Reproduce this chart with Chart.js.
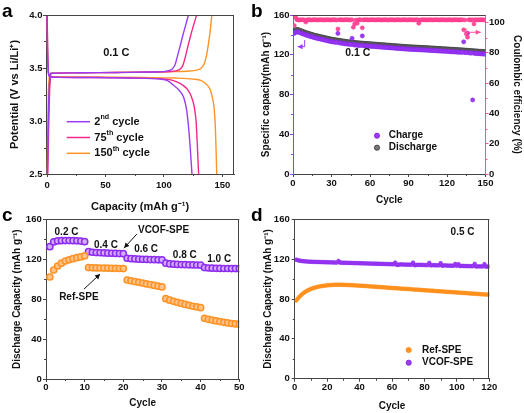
<!DOCTYPE html>
<html lang="en">
<head>
<meta charset="UTF-8">
<title>Electrochemical performance panels</title>
<script src="https://cdn.jsdelivr.net/npm/chart.js"></script>
<style>
  body { margin: 0; padding: 0; background: #fff; font-family: "Liberation Sans", Arial, sans-serif; }
  .fig { position: relative; width: 524px; height: 413px; overflow: hidden; }
  .fig canvas { position: absolute; }
  .tag { position: absolute; font-weight: bold; font-size: 19px; line-height: 19px; color: #000; }
</style>
</head>
<body>
<div class="fig">
  <canvas id="chartA" width="262" height="216" style="left:0;top:0"></canvas>
  <canvas id="chartB" width="268" height="210" style="left:256px;top:0"></canvas>
  <canvas id="chartC" width="262" height="207" style="left:0;top:206px"></canvas>
  <canvas id="chartD" width="268" height="207" style="left:256px;top:206px"></canvas>
  <div class="tag" style="left:2px;top:1px">a</div>
  <div class="tag" style="left:251px;top:1px">b</div>
  <div class="tag" style="left:2px;top:205px">c</div>
  <div class="tag" style="left:251px;top:205px">d</div>
</div>

<script>
// ---- panel a: voltage profiles (capacity mAh/g, potential V)
const charge2Cap = [0.2, 0.8, 1.5, 2.3, 3.2, 6, 30, 60, 90, 100, 104, 107, 109.5, 111.5, 113.5, 116, 118.5, 121];
const charge2V   = [2.5, 2.9, 3.25, 3.41, 3.45, 3.452, 3.455, 3.458, 3.462, 3.466, 3.475, 3.49, 3.53, 3.61, 3.69, 3.8, 3.9, 4.0];
const disch2Cap  = [0, 0.3, 0.8, 1.5, 3, 10, 40, 70, 90, 97, 103, 108, 113, 117, 119.5, 121, 122.5, 124];
const disch2V    = [4.0, 3.7, 3.5, 3.43, 3.415, 3.412, 3.41, 3.405, 3.4, 3.395, 3.38, 3.34, 3.29, 3.22, 3.1, 2.95, 2.75, 2.5];

const charge75Cap = [0.5, 1.2, 2, 2.8, 3.8, 7, 30, 60, 90, 105, 111, 114, 116, 118, 120, 122.5, 125, 128];
const charge75V   = [2.5, 2.9, 3.25, 3.41, 3.45, 3.452, 3.455, 3.458, 3.462, 3.466, 3.475, 3.49, 3.52, 3.59, 3.68, 3.79, 3.89, 4.0];
const disch75Cap  = [0, 0.3, 0.8, 1.5, 3, 10, 40, 70, 95, 105, 111, 116, 120, 123.5, 126, 127.5, 128.5, 129.7];
const disch75V    = [4.0, 3.7, 3.5, 3.43, 3.415, 3.412, 3.41, 3.405, 3.4, 3.39, 3.37, 3.34, 3.3, 3.23, 3.13, 3.0, 2.8, 2.5];

const charge150Cap = [0.1, 0.5, 1, 1.8, 2.8, 6, 30, 60, 90, 110, 122, 128, 132, 134.5, 136.5, 138, 139.5, 141];
const charge150V   = [2.5, 2.9, 3.25, 3.41, 3.45, 3.452, 3.455, 3.458, 3.462, 3.466, 3.472, 3.48, 3.5, 3.54, 3.62, 3.72, 3.84, 4.0];
const disch150Cap  = [0, 0.3, 0.8, 1.5, 3, 10, 40, 80, 110, 125, 132, 136, 139.5, 141.5, 143, 144, 144.6, 145.2];
const disch150V    = [4.0, 3.7, 3.5, 3.43, 3.42, 3.418, 3.415, 3.41, 3.405, 3.395, 3.38, 3.35, 3.3, 3.22, 3.12, 2.95, 2.75, 2.5];

const cycleNames = ['2^{nd} cycle', '75^{th} cycle', '150^{th} cycle'];
const capTicks = [0, 50, 100, 150];
const potTicks = [2.5, 3.0, 3.5, 4.0];

// ---- panel b: cycling at 0.1 C (cycles 1..150)
const chargeCap = [
  141.5,142.5,143.0,142.8,142.4,141.9,141.4,140.9,140.4,139.9,
  139.5,139.1,138.7,138.3,137.9,137.5,137.1,136.8,136.5,136.2,
  135.9,135.6,135.3,135.0,134.7,134.4,134.1,133.8,133.5,133.2,
  133.0,132.8,132.6,132.4,141.5,132.0,131.8,131.6,131.4,131.2,
  131.0,130.8,130.7,130.5,130.4,136.5,130.1,129.9,129.8,129.6,
  129.5,129.4,129.3,138.9,129.1,129.0,128.9,128.8,128.7,128.6,
  128.5,128.4,128.3,128.2,128.1,128.0,127.9,127.8,127.7,127.6,
  127.5,127.4,127.3,127.2,127.1,127.0,126.9,126.8,126.7,126.6,
  126.5,126.4,126.3,126.2,126.1,126.0,125.9,125.8,125.7,125.6,
  125.5,125.5,125.4,125.3,125.3,125.2,125.1,125.1,125.0,124.9,
  124.9,124.8,124.7,124.7,124.6,124.5,124.4,124.3,124.2,124.2,
  124.1,124.0,123.9,123.8,123.8,123.7,123.6,123.5,123.5,123.4,
  123.3,123.2,123.1,123.0,123.0,122.9,122.8,122.7,122.6,122.6,
  122.5,122.4,133.0,122.2,122.1,141.6,121.9,121.8,121.7,74.5,
  121.5,121.4,121.3,121.2,121.1,121.0,120.9,120.8,120.7,120.6
];
const dischargeCap = [
  144.0,145.0,145.5,145.2,144.8,144.3,143.8,143.3,142.8,142.3,
  141.9,141.5,141.1,140.7,140.3,139.9,139.5,139.2,138.9,138.6,
  138.3,138.0,137.7,137.4,137.1,136.8,136.5,136.2,135.9,135.6,
  135.4,135.2,135.0,134.8,134.6,134.4,134.2,134.0,133.8,133.6,
  133.4,133.2,133.1,132.9,132.8,132.6,132.5,132.3,132.2,132.0,
  131.9,131.8,131.7,131.6,131.5,131.4,131.3,131.2,131.1,131.0,
  130.9,130.8,130.7,130.6,130.5,130.4,130.3,130.2,130.1,130.0,
  129.9,129.8,129.7,129.6,129.5,129.4,129.3,129.2,129.1,129.0,
  128.9,128.8,128.7,128.6,128.5,128.4,128.3,128.2,128.1,128.0,
  127.9,127.9,127.8,127.7,127.7,127.6,127.5,127.5,127.4,127.3,
  127.3,127.2,127.1,127.1,127.0,126.9,126.8,126.7,126.6,126.6,
  126.5,126.4,126.3,126.2,126.2,126.1,126.0,125.9,125.9,125.8,
  125.7,125.6,125.5,125.4,125.4,125.3,125.2,125.1,125.0,125.0,
  124.9,124.8,124.7,124.6,124.5,124.4,124.3,124.2,124.1,124.0,
  123.9,123.8,123.7,123.6,123.5,123.4,123.3,123.2,123.1,123.0
];
const coulombEff = [
  98.0,103.5,101.9,101.8,101.7,101.8,101.9,101.8,101.7,100.3,
  101.8,101.9,101.8,101.7,101.8,101.8,101.9,101.8,101.7,101.8,
  101.8,101.9,101.8,101.7,101.8,101.8,101.9,101.8,101.7,101.8,
  101.8,101.9,101.8,101.7,95.8,101.8,101.9,101.8,101.7,101.8,
  101.8,101.9,101.8,101.7,101.8,101.8,96.9,99.1,101.7,99.5,
  101.8,101.9,101.8,96.5,101.8,101.8,101.9,101.8,101.7,101.8,
  101.8,101.9,101.8,101.7,101.8,101.8,101.9,101.8,101.7,101.8,
  101.8,101.9,101.8,101.7,101.8,101.8,101.9,101.8,101.7,101.8,
  101.8,101.9,101.8,101.7,101.8,101.8,101.9,101.8,101.7,101.8,
  101.8,101.9,101.8,101.7,101.8,101.8,101.9,99.5,101.7,101.8,
  101.8,101.9,101.8,101.7,101.8,101.8,101.9,101.8,101.7,101.8,
  101.8,101.9,101.8,101.7,101.8,101.8,101.9,101.8,101.7,101.8,
  101.8,101.9,101.8,101.7,101.8,101.8,101.9,101.8,101.7,101.8,
  101.8,101.9,95.2,101.7,92.6,90.3,101.9,101.8,101.7,101.8,
  99.1,101.9,101.8,101.7,101.8,101.8,101.9,101.8,101.7,101.8
];
const cycTicksB = [0, 30, 60, 90, 120, 150];
const capTicksB = [0, 40, 80, 120, 160];
const ceTicks = [0, 20, 40, 60, 80, 100];

// ---- panel c: rate capability (cycles 1..50)
const vcofRate = [
  132.6,137.3,138.3,138.6,138.7,138.7,138.6,138.4,138.2,137.6,
  127.6,127.0,126.7,126.5,126.3,126.1,126.0,125.8,125.7,125.6,
  121.0,120.6,120.3,120.1,119.9,119.8,119.6,119.5,119.4,119.3,
  116.0,115.3,115.0,114.8,114.6,114.5,114.4,114.3,114.2,114.0,
  111.6,111.2,111.0,110.9,110.8,110.7,110.7,110.6,110.6,110.5
];
const refRate = [
  102.2,109.2,113.2,116.0,118.2,119.4,120.6,121.6,122.3,123.3,
  111.6,111.4,111.3,111.2,111.1,111.0,110.9,110.8,110.7,110.6,
  99.2,98.4,97.6,96.9,96.1,95.3,94.6,93.8,93.0,92.2,
  80.5,79.0,77.8,76.7,75.7,74.7,73.8,72.9,72.2,71.5,
  60.8,59.8,59.0,58.2,57.5,56.8,56.2,55.6,55.2,54.8
];
const cycTicksC = [0, 10, 20, 30, 40, 50];
const capTicksC = [0, 40, 80, 120, 160];

// ---- panel d: long cycling at 0.5 C (cycles 1..120)
const refLong = [
  78.5,80.6,82.4,84.0,85.4,86.6,87.7,88.6,89.4,90.1,
  90.7,91.2,91.7,92.1,92.5,92.8,93.1,93.3,93.5,93.7,
  93.9,94.0,94.1,94.2,94.3,94.3,94.3,94.3,94.3,94.2,
  94.2,94.1,94.0,94.0,93.9,93.8,93.7,93.6,93.5,93.4,
  93.3,93.2,93.1,93.0,92.9,92.7,92.6,92.5,92.4,92.3,
  92.1,92.0,91.9,91.8,91.7,91.6,91.5,91.3,91.2,91.1,
  91.0,90.9,90.8,90.7,90.5,90.4,90.3,90.2,90.1,90.0,
  89.9,89.7,89.6,89.5,89.4,89.3,89.2,89.1,88.9,88.8,
  88.7,88.6,88.5,88.4,88.3,88.1,88.0,87.9,87.8,87.7,
  87.6,87.5,87.3,87.2,87.1,87.0,86.9,86.8,86.7,86.5,
  86.4,86.3,86.2,86.1,86.0,85.9,85.7,85.6,85.5,85.4,
  85.3,85.2,85.1,84.9,84.8,84.7,84.6,84.5,84.4,84.3
];
const vcofLong = [
  119.5,118.9,118.5,118.2,118.0,117.8,117.7,117.6,117.5,117.4,
  117.3,117.3,117.2,117.2,117.1,117.1,117.0,117.0,116.9,116.9,
  116.8,116.8,116.7,116.7,116.6,116.6,118.2,116.5,116.5,116.4,
  116.4,116.3,116.3,116.2,116.2,116.1,116.1,116.0,116.0,115.9,
  115.9,115.8,115.8,115.7,115.7,115.6,115.6,115.5,115.5,115.4,
  115.4,115.3,115.3,115.2,115.2,115.1,115.1,115.0,115.0,114.9,
  114.9,116.6,114.2,114.4,114.7,114.7,114.6,114.6,114.5,114.5,
  114.4,114.4,116.5,113.9,114.2,114.3,114.3,114.2,114.2,114.1,
  114.1,114.0,116.3,113.7,114.0,113.9,113.9,113.8,113.8,116.0,
  113.4,113.7,113.7,113.6,113.6,113.5,113.5,113.4,115.2,113.3,
  115.0,113.0,113.2,113.2,113.1,113.1,113.0,113.0,112.9,112.9,
  115.3,112.5,112.8,112.8,112.7,112.7,115.1,112.4,112.6,112.5
];
const cycTicksD = [0, 20, 40, 60, 80, 100, 120];
const capTicksD = [0, 40, 80, 120, 160];

// ---- colours
const PURPLE = '#9b3cf5';
const PINK = '#f2288a';
const ORANGE = '#ff9326';
const CE_PINK = '#ff4f9a';
const GREY = '#5a5a5a';
const AXIS = '#444';

Chart.defaults.font.family = '"Liberation Sans", Arial, sans-serif';
Chart.defaults.font.weight = 'bold';
Chart.defaults.font.size = 9.5;
Chart.defaults.color = '#111';

function pts(xs, ys) { return xs.map((x, i) => ({ x: x, y: ys[i] })); }
function byCycle(vals) { return vals.map((v, i) => ({ x: i + 1, y: v })); }

// text with ^{sup} parts
function drawRich(ctx, str, x, y, size, align) {
  const parts = [];
  str.split(/(\^\{[^}]*\})/).forEach(p => {
    if (!p) return;
    if (p.startsWith('^{')) parts.push({ t: p.slice(2, -1), sup: true });
    else parts.push({ t: p, sup: false });
  });
  const fam = Chart.defaults.font.family;
  const fontOf = s => 'bold ' + (s ? size * 0.65 : size) + 'px ' + fam;
  let w = 0;
  parts.forEach(p => { ctx.font = fontOf(p.sup); p.w = ctx.measureText(p.t).width; w += p.w; });
  let cx = align === 'center' ? x - w / 2 : x;
  ctx.textBaseline = 'middle';
  ctx.textAlign = 'left';
  parts.forEach(p => {
    ctx.font = fontOf(p.sup);
    ctx.fillText(p.t, cx, p.sup ? y - size * 0.38 : y);
    cx += p.w;
  });
}

const boxPlugin = {
  id: 'box',
  afterDraw(chart, args, opts) {
    const { ctx, chartArea: a } = chart;
    ctx.save();
    ctx.strokeStyle = AXIS;
    ctx.lineWidth = 1;
    ctx.beginPath();
    const t = Math.round(a.top) + 0.5, r = Math.round(a.right) - 0.5;
    ctx.moveTo(a.left, t);
    ctx.lineTo(a.right, t);
    if (opts.right !== false) {
      ctx.moveTo(r, a.top);
      ctx.lineTo(r, a.bottom);
    }
    ctx.stroke();
    ctx.restore();
  }
};

const minorPlugin = {
  id: 'minor',
  afterDraw(chart, args, opts) {
    const ctx = chart.ctx;
    (opts.list || []).forEach(m => {
      const s = chart.scales[m.axis];
      const majors = s.ticks.map(t => t.value);
      ctx.save();
      ctx.strokeStyle = s.options.border.color;
      ctx.lineWidth = 1;
      ctx.beginPath();
      for (let v = Math.ceil(s.min / m.step) * m.step; v <= s.max + 1e-9; v += m.step) {
        if (majors.some(mv => Math.abs(mv - v) < 1e-6)) continue;
        const p = Math.round(s.getPixelForValue(v)) + 0.5;
        if (s.isHorizontal()) { ctx.moveTo(p, s.top); ctx.lineTo(p, s.top + 2); }
        else if (s.position === 'left') { ctx.moveTo(s.right, p); ctx.lineTo(s.right - 2, p); }
        else { ctx.moveTo(s.left, p); ctx.lineTo(s.left + 2, p); }
      }
      ctx.stroke();
      ctx.restore();
    });
  }
};

const notesPlugin = {
  id: 'notes',
  afterDatasetsDraw(chart, args, opts) {
    const ctx = chart.ctx;
    (opts.items || []).forEach(n => {
      const xs = chart.scales.x, ys = chart.scales[n.yAxis || 'y'];
      ctx.save();
      ctx.fillStyle = n.color || '#111';
      ctx.strokeStyle = n.color || '#111';
      if (n.text) {
        drawRich(ctx, n.text, xs.getPixelForValue(n.x), ys.getPixelForValue(n.y), n.size || 10, 'center');
      }
      if (n.path) {
        const p = n.path.map(q => [xs.getPixelForValue(q[0]), ys.getPixelForValue(q[1])]);
        ctx.lineWidth = 1;
        ctx.beginPath();
        p.forEach((q, i) => i ? ctx.lineTo(q[0], q[1]) : ctx.moveTo(q[0], q[1]));
        ctx.stroke();
        const e = p[p.length - 1], b = p[p.length - 2];
        const ang = Math.atan2(e[1] - b[1], e[0] - b[0]);
        const L = 5, W = 2.6;
        ctx.beginPath();
        ctx.moveTo(e[0], e[1]);
        ctx.lineTo(e[0] - L * Math.cos(ang) + W * Math.sin(ang), e[1] - L * Math.sin(ang) - W * Math.cos(ang));
        ctx.lineTo(e[0] - L * Math.cos(ang) - W * Math.sin(ang), e[1] - L * Math.sin(ang) + W * Math.cos(ang));
        ctx.closePath();
        ctx.fill();
      }
      ctx.restore();
    });
  }
};

const keyPlugin = {
  id: 'key',
  afterDraw(chart, args, opts) {
    if (!opts.dx) return;
    const { ctx, chartArea: a } = chart;
    let y = a.top + opts.dy;
    chart.data.datasets.forEach(ds => {
      if (!ds.label) return;
      const x0 = a.left + opts.dx;
      ctx.save();
      if (opts.kind === 'line') {
        ctx.strokeStyle = ds.borderColor;
        ctx.lineWidth = 1.5;
        ctx.beginPath();
        ctx.moveTo(x0, y);
        ctx.lineTo(x0 + opts.len, y);
        ctx.stroke();
      } else {
        ctx.fillStyle = ds.pointBackgroundColor;
        ctx.strokeStyle = ds.pointBorderColor;
        ctx.lineWidth = 0.8;
        ctx.beginPath();
        ctx.arc(x0, y, 2.6, 0, Math.PI * 2);
        ctx.fill();
        ctx.stroke();
      }
      ctx.fillStyle = '#111';
      drawRich(ctx, ds.label, x0 + opts.textGap, y, opts.size, 'left');
      ctx.restore();
      y += opts.gap;
    });
  }
};

const plugs = [boxPlugin, minorPlugin, notesPlugin, keyPlugin];

function axis(extra) {
  const base = {
    type: 'linear',
    grid: { display: true, drawOnChartArea: false, drawTicks: true, tickLength: 3, tickColor: AXIS, tickWidth: 1 },
    border: { display: true, color: AXIS, width: 1 },
    ticks: { autoSkip: false, maxRotation: 0, color: '#111', font: { size: 9.5, weight: 'bold' } },
    title: { display: true, color: '#111', font: { size: 10, weight: 'bold' } }
  };
  const out = Object.assign({}, base, extra);
  out.grid = Object.assign({}, base.grid, extra.grid || {});
  out.border = Object.assign({}, base.border, extra.border || {});
  out.ticks = Object.assign({}, base.ticks, extra.ticks || {});
  out.title = Object.assign({}, base.title, extra.title || {});
  return out;
}
function fixedTicks(vals) { return s => { s.ticks = vals.map(v => ({ value: v })); }; }

const common = { responsive: false, animation: false, devicePixelRatio: 1, events: [] };

// ---------------- panel a
const lineSet = (label, data, color) => ({
  label: label, data: data, borderColor: color, backgroundColor: color,
  showLine: true, pointRadius: 0, borderWidth: 1.4, cubicInterpolationMode: 'monotone'
});
new Chart(document.getElementById('chartA'), {
  type: 'scatter',
  data: {
    datasets: [
      lineSet(cycleNames[0], pts(charge2Cap, charge2V), PURPLE),
      lineSet('', pts(disch2Cap, disch2V), PURPLE),
      lineSet(cycleNames[1], pts(charge75Cap, charge75V), PINK),
      lineSet('', pts(disch75Cap, disch75V), PINK),
      lineSet(cycleNames[2], pts(charge150Cap, charge150V), ORANGE),
      lineSet('', pts(disch150Cap, disch150V), ORANGE)
    ]
  },
  options: Object.assign({}, common, {
    layout: { padding: { top: 15, right: 28, left: 0, bottom: 0 } },
    plugins: {
      legend: { display: false }, tooltip: { enabled: false },
      minor: { list: [{ axis: 'x', step: 25 }, { axis: 'y', step: 0.25 }] },
      notes: { items: [{ text: '0.1 C', x: 59.2, y: 3.64, size: 11 }] },
      key: { kind: 'line', dx: 20.7, dy: 106.7, gap: 15.8, len: 23.3, textGap: 27.6, size: 11 }
    },
    scales: {
      x: axis({
        min: -1, max: 160, afterBuildTicks: fixedTicks(capTicks),
        afterFit: s => { s.height = 42; },
        ticks: { padding: 2.3 },
        title: { text: 'Capacity (mAh g\u207B\u00B9)', font: { size: 11, weight: 'bold' }, padding: { top: 0, bottom: 2.9 } }
      }),
      y: axis({
        min: 2.5, max: 4.0, afterBuildTicks: fixedTicks(potTicks),
        afterFit: s => { s.width = 46; },
        ticks: { padding: 0.5, callback: v => v.toFixed(1) },
        title: { text: 'Potential (V vs Li/Li\u207A)', font: { size: 11, weight: 'bold' }, padding: { top: 8.4, bottom: 0 } }
      })
    }
  }),
  plugins: plugs
});

// ---------------- panel b
new Chart(document.getElementById('chartB'), {
  type: 'scatter',
  data: {
    datasets: [
      { label: '', data: byCycle(coulombEff), yAxisID: 'y2', pointRadius: 2, pointBackgroundColor: CE_PINK, pointBorderColor: '#ff2a85', pointBorderWidth: 0.5 },
      { label: 'Charge', data: byCycle(chargeCap), yAxisID: 'y', pointRadius: 2.1, pointBackgroundColor: PURPLE, pointBorderColor: '#8420e8', pointBorderWidth: 0.5 },
      { label: 'Discharge', data: byCycle(dischargeCap), yAxisID: 'y', pointRadius: 2.1, pointBackgroundColor: '#777', pointBorderColor: '#333', pointBorderWidth: 0.6 }
    ]
  },
  options: Object.assign({}, common, {
    layout: { padding: { top: 15, right: 0, left: 0, bottom: 0 } },
    plugins: {
      legend: { display: false }, tooltip: { enabled: false },
      box: { right: false },
      minor: { list: [{ axis: 'x', step: 15 }, { axis: 'y', step: 20 }, { axis: 'y2', step: 10 }] },
      notes: { items: [
        { text: '0.1 C', x: 50.4, y: 121.5, size: 10.5 },
        { path: [[9.1, 134.8], [9.1, 128.1], [3.6, 128.1]], color: PURPLE },
        { path: [[134.8, 96.2], [134.8, 93.6], [146.3, 93.6]], color: CE_PINK, yAxis: 'y2' }
      ] },
      key: { kind: 'point', dx: 84, dy: 120.7, gap: 12, textGap: 11.7, size: 10 }
    },
    scales: {
      x: axis({
        min: 0, max: 150, afterBuildTicks: fixedTicks(cycTicksB),
        afterFit: s => { s.height = 36; },
        ticks: { padding: 0.6 },
        title: { text: 'Cycle', padding: { top: 0, bottom: 3.3 } }
      }),
      y: axis({
        position: 'left', min: 0, max: 160, afterBuildTicks: fixedTicks(capTicksB),
        afterFit: s => { s.width = 37; },
        grid: { tickColor: PURPLE }, border: { color: PURPLE },
        ticks: { padding: 0.5 },
        title: { text: 'Specific capacity(mAh g\u207B\u00B9)', padding: { top: 4, bottom: 0 } }
      }),
      y2: axis({
        position: 'right', min: 0, max: 105, afterBuildTicks: fixedTicks(ceTicks),
        afterFit: s => { s.width = 38.5; },
        grid: { tickColor: CE_PINK }, border: { color: CE_PINK },
        ticks: { padding: 0.5 },
        title: { text: 'Coulombic efficiency (%)', padding: { top: 1.7, bottom: 0 } }
      })
    }
  }),
  plugins: plugs
});

// ---------------- panel c
new Chart(document.getElementById('chartC'), {
  type: 'scatter',
  data: {
    datasets: [
      { label: 'Ref-SPE', data: byCycle(refRate), pointRadius: 3.1, pointBackgroundColor: '#ffc48a', pointBorderColor: ORANGE, pointBorderWidth: 1.5 },
      { label: 'VCOF-SPE', data: byCycle(vcofRate), pointRadius: 3.1, pointBackgroundColor: '#d2adff', pointBorderColor: '#8d2cf0', pointBorderWidth: 1.5 }
    ]
  },
  options: Object.assign({}, common, {
    layout: { padding: { top: 13.3, right: 22.7, left: 0, bottom: 0 } },
    plugins: {
      legend: { display: false }, tooltip: { enabled: false },
      minor: { list: [{ axis: 'x', step: 5 }, { axis: 'y', step: 20 }] },
      notes: { items: [
        { text: '0.2 C', x: 5.3, y: 147.2 },
        { text: '0.4 C', x: 15.5, y: 134.4 },
        { text: '0.6 C', x: 25.9, y: 129.9 },
        { text: '0.8 C', x: 35.9, y: 124.2 },
        { text: '1.0 C', x: 44.8, y: 119.9 },
        { text: 'VCOF-SPE', x: 30.4, y: 149.3 },
        { path: [[23.5, 145.2], [20.2, 131.2]] },
        { text: 'Ref-SPE', x: 8.5, y: 82 },
        { path: [[9.8, 90], [14.0, 105.1]] }
      ] },
      key: {}
    },
    scales: {
      x: axis({
        min: 0, max: 50, afterBuildTicks: fixedTicks(cycTicksC),
        afterFit: s => { s.height = 34; },
        ticks: { padding: 0 },
        title: { text: 'Cycle', padding: { top: 0, bottom: 3.3 } }
      }),
      y: axis({
        min: 0, max: 160, afterBuildTicks: fixedTicks(capTicksC),
        afterFit: s => { s.width = 46; },
        ticks: { padding: 1.3 },
        title: { text: 'Discharge Capacity (mAh g\u207B\u00B9)', padding: { top: 11.5, bottom: 0 } }
      })
    }
  }),
  plugins: plugs
});

// ---------------- panel d
new Chart(document.getElementById('chartD'), {
  type: 'scatter',
  data: {
    datasets: [
      { label: 'Ref-SPE', data: byCycle(refLong), pointRadius: 1.9, pointBackgroundColor: ORANGE, pointBorderColor: '#ff8a10', pointBorderWidth: 0.5 },
      { label: 'VCOF-SPE', data: byCycle(vcofLong), pointRadius: 1.9, pointBackgroundColor: PURPLE, pointBorderColor: '#8420e8', pointBorderWidth: 0.5 }
    ]
  },
  options: Object.assign({}, common, {
    layout: { padding: { top: 13.3, right: 34.7, left: 0, bottom: 0 } },
    plugins: {
      legend: { display: false }, tooltip: { enabled: false },
      minor: { list: [{ axis: 'x', step: 10 }, { axis: 'y', step: 20 }] },
      notes: { items: [{ text: '0.5 C', x: 103.5, y: 147.2 }] },
      key: { kind: 'point', dx: 114, dy: 130.7, gap: 12.7, textGap: 13.3, size: 10 }
    },
    scales: {
      x: axis({
        min: 0, max: 120, afterBuildTicks: fixedTicks(cycTicksD),
        afterFit: s => { s.height = 34.3; },
        ticks: { padding: 0.3 },
        title: { text: 'Cycle', padding: { top: 0, bottom: 1 } }
      }),
      y: axis({
        min: 0, max: 160, afterBuildTicks: fixedTicks(capTicksD),
        afterFit: s => { s.width = 38.7; },
        ticks: { padding: 2 },
        title: { text: 'Discharge Capacity (mAh g\u207B\u00B9)', padding: { top: 5.8, bottom: 0 } }
      })
    }
  }),
  plugins: plugs
});
</script>
</body>
</html>
